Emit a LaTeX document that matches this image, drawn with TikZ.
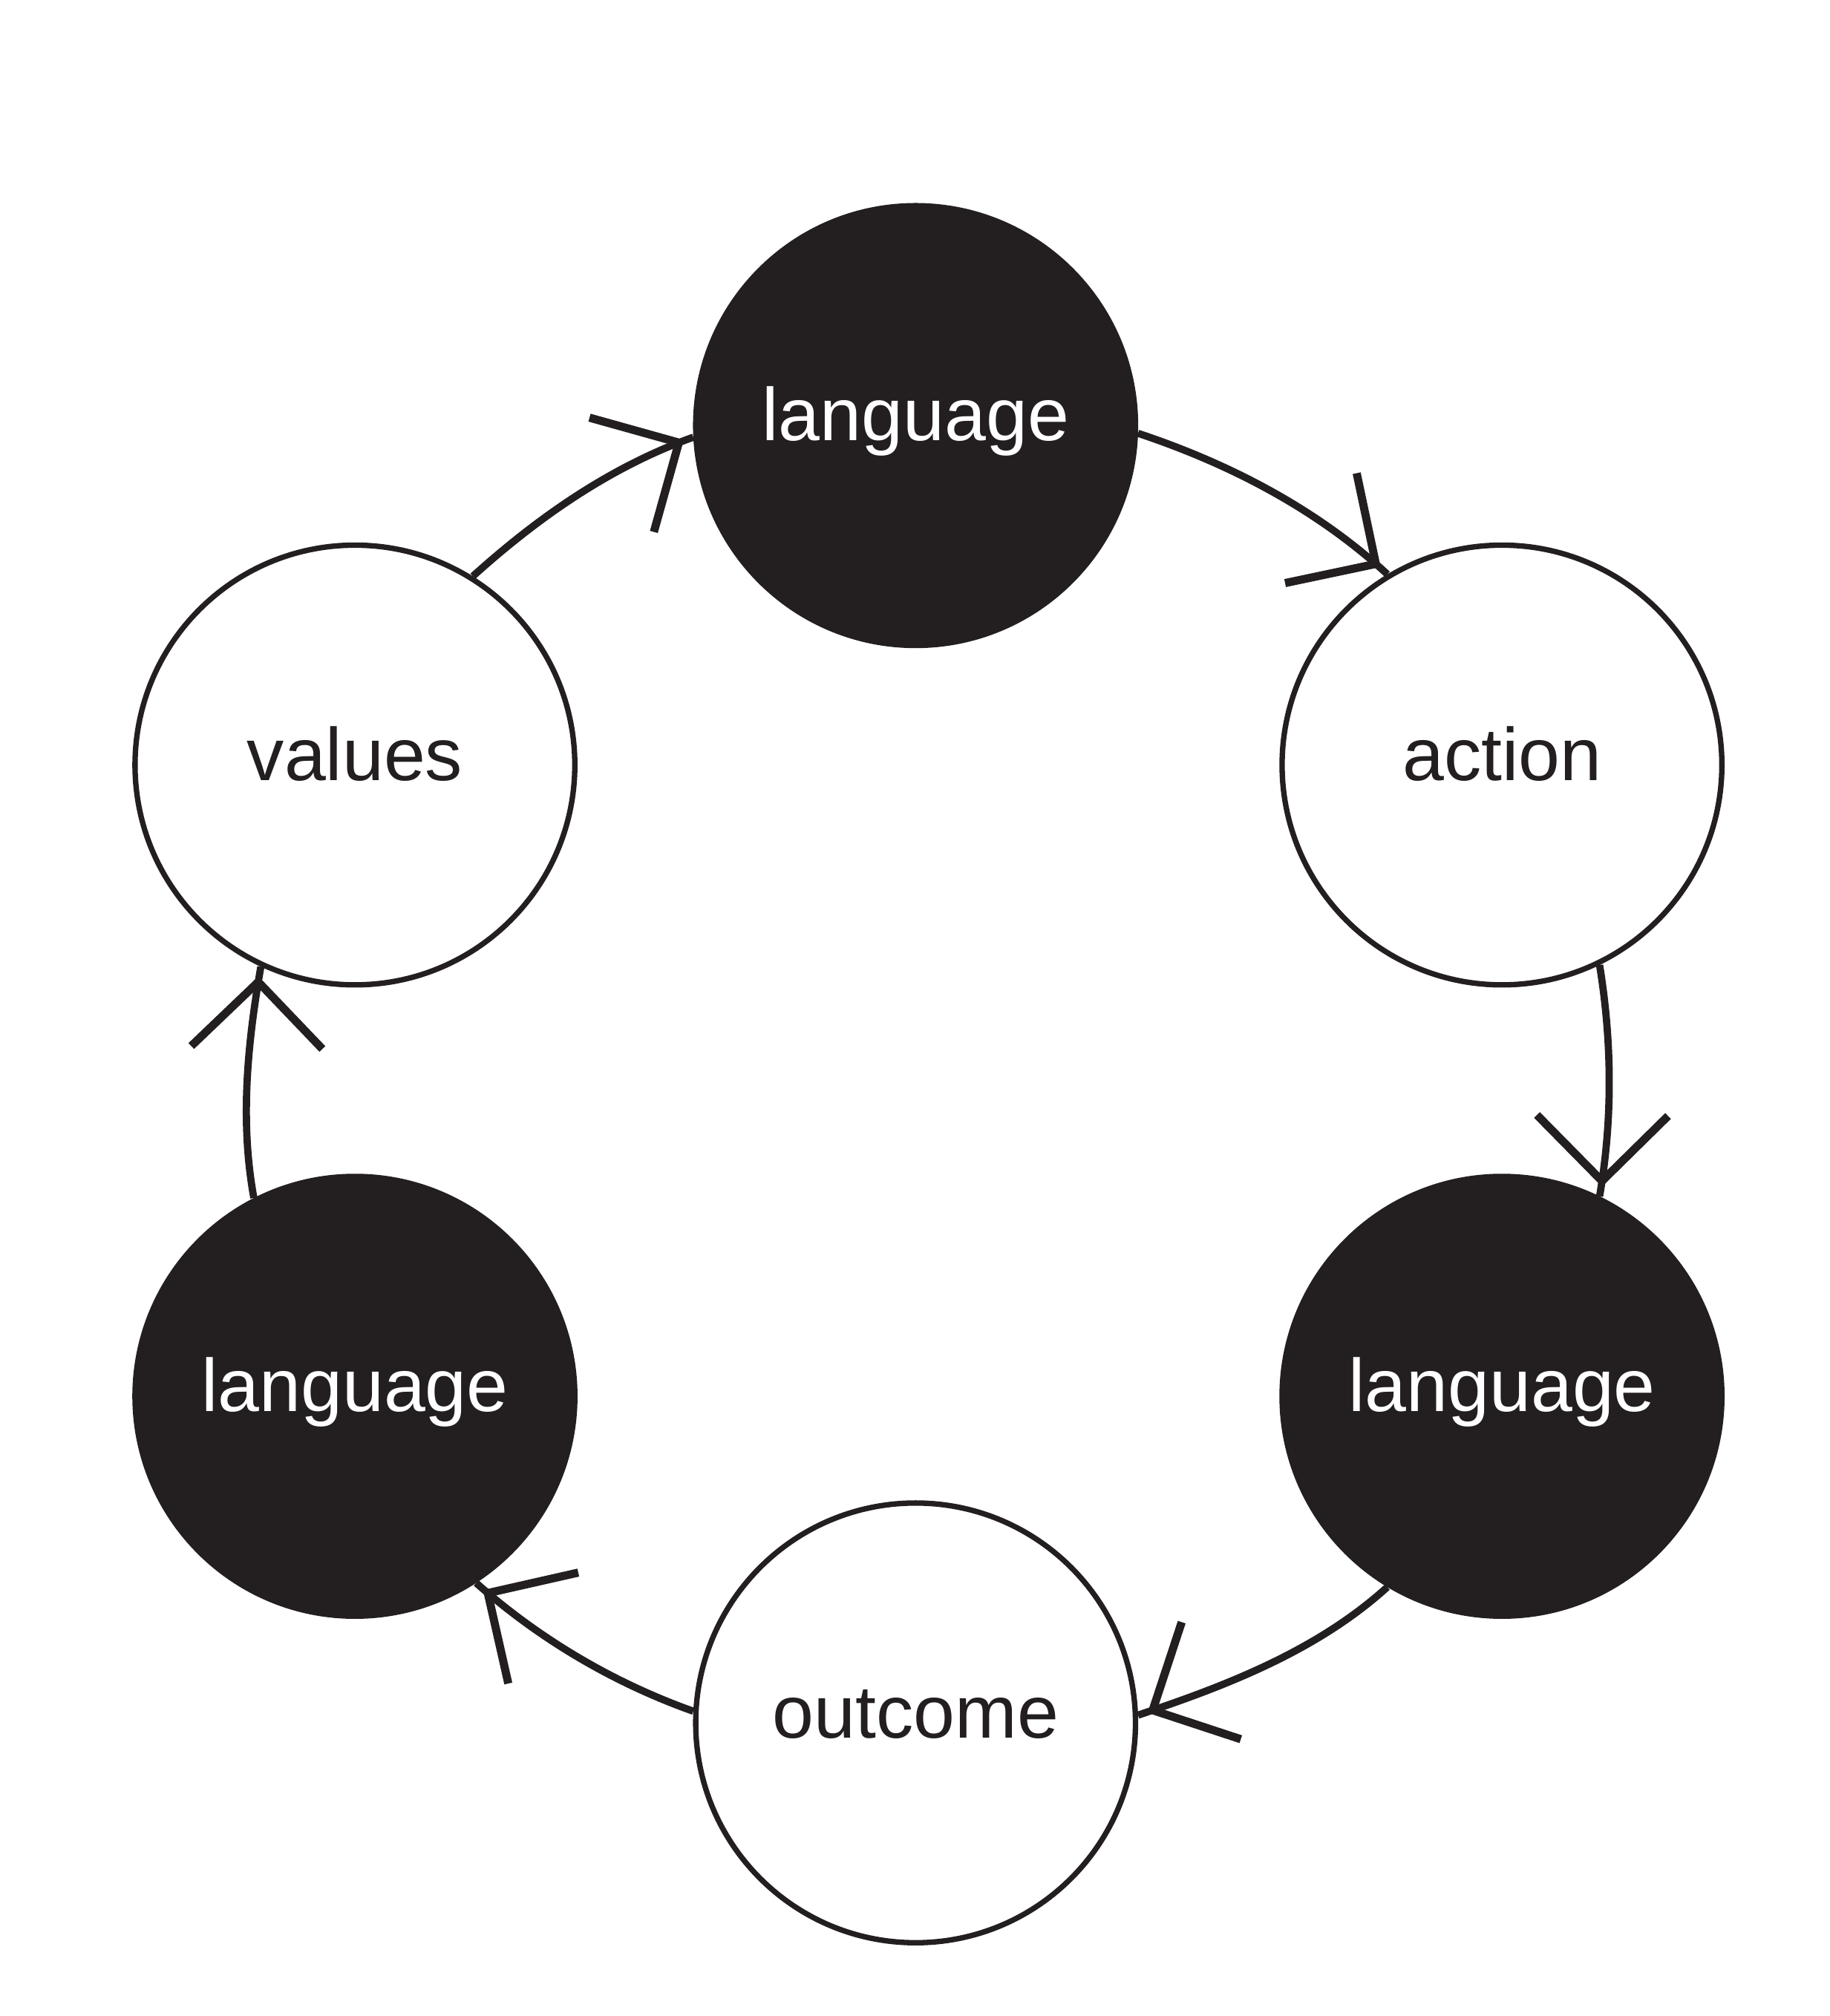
\documentclass[tikz,border=0pt]{standalone}
\usepackage{fontspec}
\setmainfont{Liberation Sans}
\usepackage{xcolor}
\usetikzlibrary{decorations.markings}
\definecolor{ink}{HTML}{231F20}

\begin{document}
\begin{tikzpicture}[
  stage/.style={circle, draw=ink, line width=1.2pt, minimum size=3.42cm, inner sep=0pt,
                font=\fontsize{16.5}{19}\selectfont, text=ink, text height=11.7pt, text depth=5pt},
  dark/.style={stage, fill=ink, text=white},
  barb/.style={draw=ink, line width=1.8pt, rotate=8},
  flow/.style={draw=ink, line width=1.6pt, looseness=0.86,
               postaction={decorate, decoration={markings,
                 mark=at position -0.12cm with {\draw[barb] (-0.51,0.51) -- (0,0) -- (-0.51,-0.51);}}}}
]
  \useasboundingbox (0,0) rectangle (14.23,-15.68);

  \node[dark]  (lang1) at (7.12,-3.31)  {language};
  \node[stage] (act)   at (11.68,-5.95) {action};
  \node[dark]  (lang2) at (11.68,-10.86) {language};
  \node[stage] (out)   at (7.12,-13.40) {outcome};
  \node[dark]  (lang3) at (2.76,-10.86) {language};
  \node[stage] (val)   at (2.76,-5.95)  {values};

  % arcs of one large ring, clockwise; \a and \b = bearing of each node from the ring centre
  \foreach \s/\a/\t/\b in {val/151.1/lang1/90.6, lang1/90.6/act/28.3, act/28.3/lang2/-28.8,
                           lang2/-28.8/out/-90.6, out/-90.6/lang3/-150.6, lang3/-150.6/val/-208.9}
    \draw[flow] (\s.\a-93) to[out=\a-109, in=\b+109] (\t.\b+93);
\end{tikzpicture}
\end{document}
